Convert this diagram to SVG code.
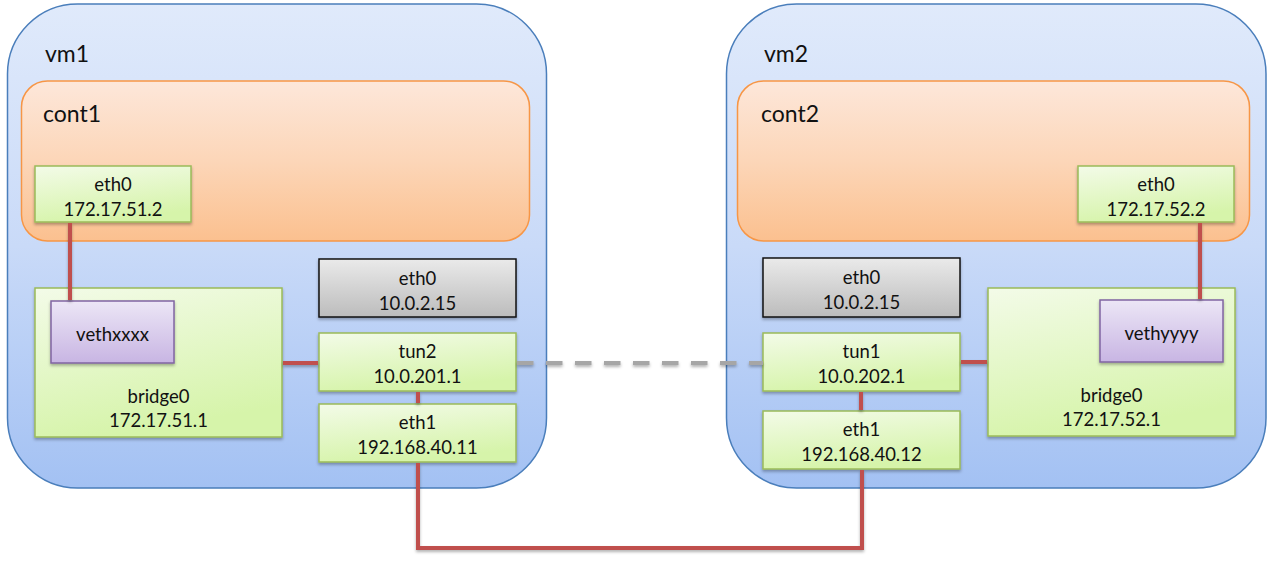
<svg xmlns="http://www.w3.org/2000/svg" width="1273" height="561" viewBox="0 0 1273 561">
  <style>
    text { font-family: Lato, "Open Sans", sans-serif; fill: #111; }
    .lbl { font-size: 23px; }
    .t { font-size: 18.5px; text-anchor: middle; }
    .vm { fill: url(#gVm); stroke: #4a7ebb; stroke-width: 1.5; }
    .cont { fill: url(#gCont); stroke: #f79646; stroke-width: 1.5; }
    .nic { fill: url(#gNic); stroke: #9bbb59; stroke-width: 1.5; filter: url(#sh); }
    .host { fill: url(#gHost); stroke: #111; stroke-width: 1.5; filter: url(#sh); }
    .veth { fill: url(#gVeth); stroke: #8064a2; stroke-width: 1.5; filter: url(#sh); }
    .wire { fill: none; stroke: #c0504d; stroke-width: 4; filter: url(#lsh); }
    .tunnel { fill: none; stroke: #a6a6a6; stroke-width: 4; stroke-dasharray: 16.5 12.5; filter: url(#lsh); }
  </style>
  <defs>
    <linearGradient id="gVm" x1="0" y1="0" x2="0" y2="1">
      <stop offset="0" stop-color="#e0eafb"/>
      <stop offset="0.5" stop-color="#c9daf8"/>
      <stop offset="1" stop-color="#a3c1f3"/>
    </linearGradient>
    <linearGradient id="gCont" x1="0" y1="0" x2="0" y2="1">
      <stop offset="0" stop-color="#fde7da"/>
      <stop offset="0.5" stop-color="#fcd6b8"/>
      <stop offset="1" stop-color="#fbc08f"/>
    </linearGradient>
    <linearGradient id="gNic" x1="0" y1="0" x2="0.3" y2="1">
      <stop offset="0" stop-color="#f3fbe8"/>
      <stop offset="1" stop-color="#d6f4aa"/>
    </linearGradient>
    <linearGradient id="gHost" x1="0" y1="0" x2="0" y2="1">
      <stop offset="0" stop-color="#eaeaea"/>
      <stop offset="1" stop-color="#bcbcbc"/>
    </linearGradient>
    <linearGradient id="gVeth" x1="0" y1="0" x2="0" y2="1">
      <stop offset="0" stop-color="#ece6f6"/>
      <stop offset="1" stop-color="#c8b5e3"/>
    </linearGradient>
    <filter id="sh" x="-10%" y="-10%" width="130%" height="140%">
      <feDropShadow dx="0" dy="2" stdDeviation="1.5" flood-color="#000" flood-opacity="0.3"/>
    </filter>
    <!-- user-space region so straight (zero-area) lines still render -->
    <filter id="lsh" filterUnits="userSpaceOnUse" x="0" y="0" width="1273" height="561">
      <feDropShadow dx="0" dy="2" stdDeviation="1.5" flood-color="#000" flood-opacity="0.3"/>
    </filter>
  </defs>

  <!-- virtual machine 1 -->
  <g id="vm1">
    <rect class="vm" x="7.5" y="4" width="539" height="484" rx="70"/>
    <text class="lbl" x="45" y="62">vm1</text>
  </g>
  <g id="cont1">
    <rect class="cont" x="21.5" y="81" width="508" height="160" rx="26"/>
    <text class="lbl" x="43" y="122">cont1</text>
  </g>
  <g id="vm1-bridge0">
    <rect class="nic" x="35" y="288" width="247" height="149"/>
    <text class="t" x="158.5" y="403">bridge0</text>
    <text class="t" x="158.5" y="427">172.17.51.1</text>
  </g>
  <g id="vethxxxx">
    <rect class="veth" x="51" y="301" width="123" height="62"/>
    <text class="t" x="112.5" y="341">vethxxxx</text>
  </g>
  <g id="cont1-eth0">
    <rect class="nic" x="35" y="166" width="156" height="56"/>
    <text class="t" x="113" y="191">eth0</text>
    <text class="t" x="113" y="216">172.17.51.2</text>
  </g>
  <g id="vm1-eth0">
    <rect class="host" x="319" y="259" width="197" height="58"/>
    <text class="t" x="417.5" y="285">eth0</text>
    <text class="t" x="417.5" y="310">10.0.2.15</text>
  </g>
  <g id="tun2">
    <rect class="nic" x="319" y="333" width="197" height="58"/>
    <text class="t" x="417.5" y="358">tun2</text>
    <text class="t" x="417.5" y="383">10.0.201.1</text>
  </g>
  <g id="vm1-eth1">
    <rect class="nic" x="319" y="404" width="197" height="58"/>
    <text class="t" x="417.5" y="429">eth1</text>
    <text class="t" x="417.5" y="454">192.168.40.11</text>
  </g>

  <!-- virtual machine 2 -->
  <g id="vm2">
    <rect class="vm" x="726.5" y="4" width="539.5" height="484" rx="70"/>
    <text class="lbl" x="764" y="62">vm2</text>
  </g>
  <g id="cont2">
    <rect class="cont" x="737.5" y="81" width="512" height="160" rx="26"/>
    <text class="lbl" x="761" y="122">cont2</text>
  </g>
  <g id="vm2-bridge0">
    <rect class="nic" x="988" y="288" width="247" height="148"/>
    <text class="t" x="1111.5" y="402">bridge0</text>
    <text class="t" x="1111.5" y="426">172.17.52.1</text>
  </g>
  <g id="vethyyyy">
    <rect class="veth" x="1100" y="300" width="123" height="62"/>
    <text class="t" x="1161.5" y="340">vethyyyy</text>
  </g>
  <g id="cont2-eth0">
    <rect class="nic" x="1078" y="166" width="156" height="56"/>
    <text class="t" x="1156" y="191">eth0</text>
    <text class="t" x="1156" y="216">172.17.52.2</text>
  </g>
  <g id="vm2-eth0">
    <rect class="host" x="763" y="258" width="197" height="59"/>
    <text class="t" x="861.5" y="284">eth0</text>
    <text class="t" x="861.5" y="309">10.0.2.15</text>
  </g>
  <g id="tun1">
    <rect class="nic" x="763" y="333" width="197" height="58"/>
    <text class="t" x="861.5" y="358">tun1</text>
    <text class="t" x="861.5" y="383">10.0.202.1</text>
  </g>
  <g id="vm2-eth1">
    <rect class="nic" x="763" y="411" width="197" height="58"/>
    <text class="t" x="861.5" y="436">eth1</text>
    <text class="t" x="861.5" y="461">192.168.40.12</text>
  </g>

  <!-- links -->
  <g id="connectors">
    <path class="wire" d="M70 223 V300"/>
    <path class="wire" d="M283 363 H318"/>
    <path class="wire" d="M418 392 V403"/>
    <path class="wire" d="M418 463 V548 H862 V470"/>
    <path class="wire" d="M1200 223 V299"/>
    <path class="wire" d="M961 362 H987"/>
    <path class="wire" d="M861 392 V410"/>
    <path class="tunnel" d="M517 363 H763"/>
  </g>
</svg>
